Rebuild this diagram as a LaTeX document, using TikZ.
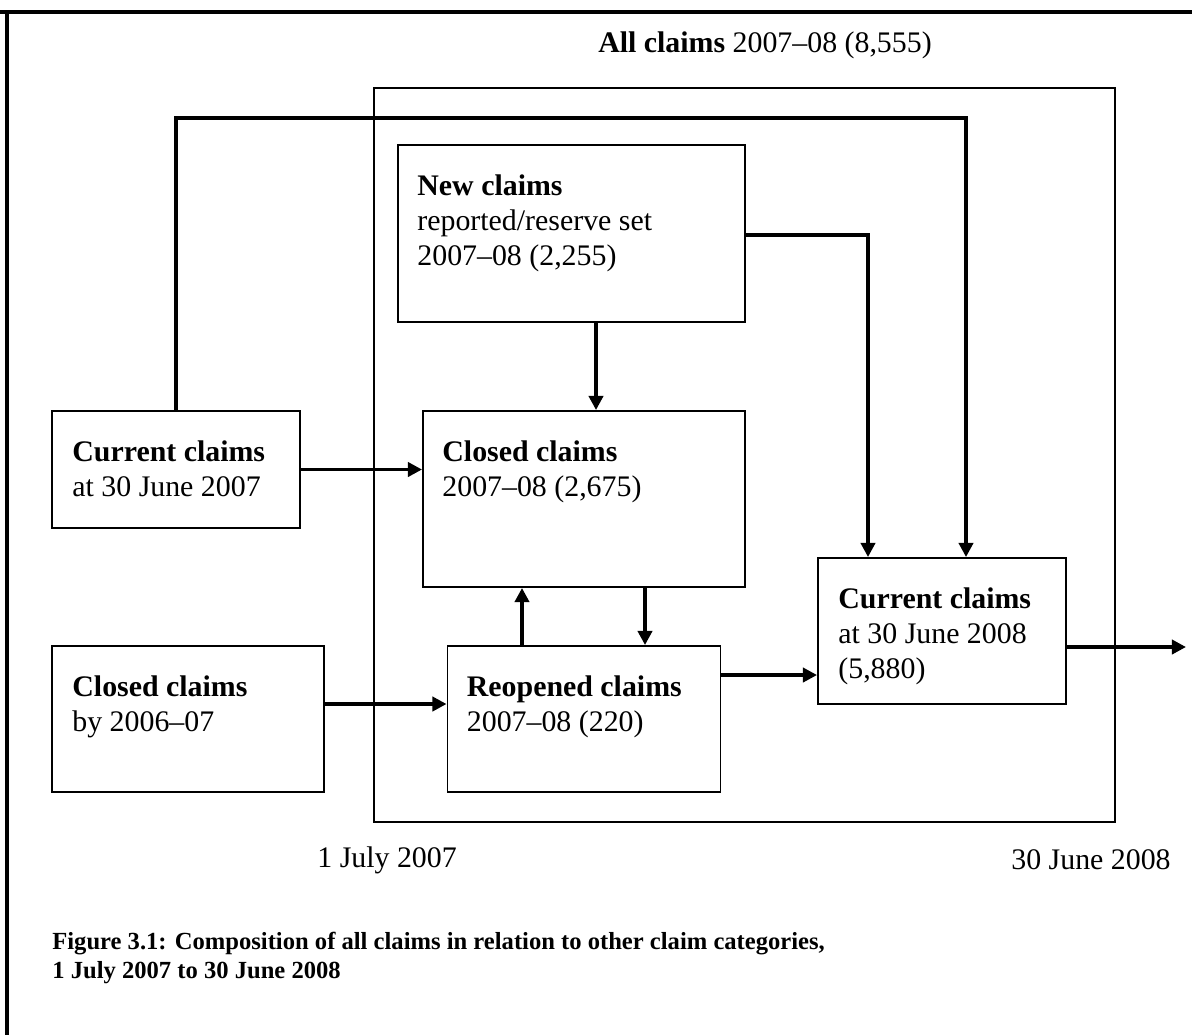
\documentclass[tikz,border=0pt]{standalone}
\usepackage{fontspec}
\setmainfont{Liberation Serif}
\usetikzlibrary{arrows.meta,calc}
\begin{document}
\begin{tikzpicture}[x=0.02cm,y=-0.02cm,
  box/.style={draw,line width=1.1pt,minimum width=#1,inner sep=0pt},
  txt/.style={anchor=north west,align=left,inner sep=0pt,font=\fontsize{17}{20}\selectfont},
  lbl/.style={inner sep=0pt,font=\fontsize{17}{20}\selectfont},
  arr/.style={line width=2pt,-{Triangle[length=8pt,width=8pt]}}]
\useasboundingbox (0,0) rectangle (1192,1035);
% frame
\draw[line width=2pt] (0,12) -- (1192,12);
\draw[line width=2pt] (7,12) -- (7,1035);
% big box
\node[draw,line width=0.9pt,minimum width=741*0.02cm,minimum height=734*0.02cm,inner sep=0pt] (big) at (744.5,455) {};
% boxes
\node[box=347*0.02cm,minimum height=177*0.02cm] (newc) at (571.5,233.5) {};
\node[box=322*0.02cm,minimum height=176*0.02cm] (closed) at (584,499) {};
\node[box=248*0.02cm,minimum height=117*0.02cm] (cur07) at (176,469.5) {};
\node[box=272*0.02cm,minimum height=146*0.02cm] (clo06) at (188,719) {};
\node[box=273*0.02cm,minimum height=146*0.02cm] (reop) at (584,719) {};
\node[box=248*0.02cm,minimum height=146*0.02cm] (cur08) at (942,631) {};
% box texts
\node[txt] (newct) at ($(newc.north west)+(20,30)$) {\textbf{New claims}\\reported/reserve set\\2007–08 (2,255)};
\node[txt] (closedt) at ($(closed.north west)+(20,30)$) {\textbf{Closed claims}\\2007–08 (2,675)};
\node[txt] (cur07t) at ($(cur07.north west)+(21,30)$) {\textbf{Current claims}\\at 30 June 2007};
\node[txt] (clo06t) at ($(clo06.north west)+(21,30)$) {\textbf{Closed claims}\\by 2006–07};
\node[txt] (reopt) at ($(reop.north west)+(20,30)$) {\textbf{Reopened claims}\\2007–08 (220)};
\node[txt] (cur08t) at ($(cur08.north west)+(21,30)$) {\textbf{Current claims}\\at 30 June 2008\\(5,880)};
% labels
\node[lbl] (title) at (765,45) {\textbf{All claims} 2007–08 (8,555)};
\node[lbl,anchor=west] (d1) at (317,860) {1 July 2007};
\node[lbl,anchor=east] (d2) at (1171,860) {30 June 2008};
\node[inner sep=0pt,anchor=north west,align=left,font=\fontsize{14}{16.5}\selectfont\bfseries] (cap) at (52,932) {Figure 3.1: Composition of all claims in relation to other claim categories,\\1 July 2007 to 30 June 2008};
% coordinates
\coordinate (xA) at (596,0);
\coordinate (xUp) at (522,0);
\coordinate (xDn) at (645,0);
\coordinate (xF) at (868,0);
\coordinate (xE) at (966,0);
\coordinate (yTop) at (0,118);
\coordinate (yD) at (0,235);
\coordinate (yB) at (0,675);
\coordinate (yC) at (0,647);
\coordinate (outEnd) at (1186,647);
% connectors
\draw[arr] (newc.south -| xA) -- (closed.north -| xA);
\draw[arr] (cur07.east) -- (cur07.east -| closed.west);
\draw[arr] (clo06.north east |- 0,704) -- (reop.west |- 0,704);
\draw[arr] (reop.north -| xUp) -- (closed.south -| xUp);
\draw[arr] (closed.south -| xDn) -- (reop.north -| xDn);
\draw[arr] (reop.east |- yB) -- (cur08.west |- yB);
\draw[arr] (cur08.east |- yC) -- (outEnd);
\draw[arr] (cur07.north) -- (cur07.north |- yTop) -- (xE |- yTop) -- (cur08.north -| xE);
\draw[arr] (newc.east |- yD) -- (xF |- yD) -- (cur08.north -| xF);
\end{tikzpicture}
\end{document}
